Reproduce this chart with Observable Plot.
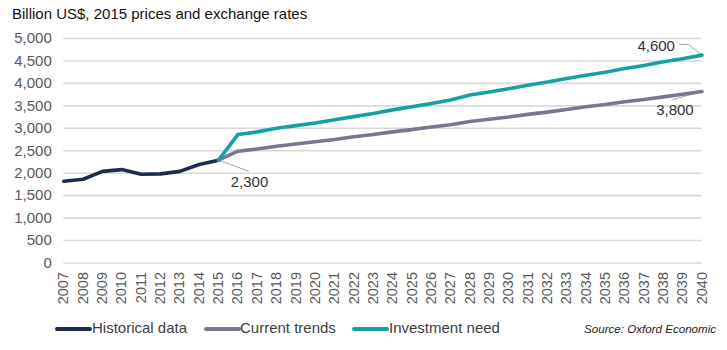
<!DOCTYPE html>
<html>
<head>
<meta charset="utf-8">
<script src="https://cdn.jsdelivr.net/npm/d3@7"></script>
<script src="https://cdn.jsdelivr.net/npm/@observablehq/plot@0.6"></script>
<style>
  html, body { margin: 0; padding: 0; background: #fff; }
  #wrap { position: relative; width: 727px; height: 350px; font-family: "Liberation Sans", Arial, sans-serif; overflow: hidden; }
  #title { position: absolute; left: 12px; top: 5px; font-size: 15px; line-height: 18px; color: #111; white-space: nowrap; }
  #chart { position: absolute; left: 0; top: 28px; }
  .leg { position: absolute; top: 319px; font-size: 15px; line-height: 18px; color: #404040; white-space: nowrap; }
  .sw { position: absolute; top: 327px; width: 37px; height: 4px; border-radius: 2px; }
  #source { position: absolute; top: 322px; left: 584px; font-size: 11.6px; font-style: italic; color: #222; white-space: nowrap; }
</style>
</head>
<body>
<div id="wrap">
  <div id="title">Billion US$, 2015 prices and exchange rates</div>
  <div id="chart"></div>
  <div id="legend"></div>
  <div id="source">Source: Oxford Economic</div>
</div>
<script>
// ---- data ----
const historicalYears = [2007, 2008, 2009, 2010, 2011, 2012, 2013, 2014, 2015];
const historicalValues = [1820, 1865, 2040, 2080, 1975, 1985, 2040, 2195, 2290];

const projectionYears = [2015, 2016, 2017, 2018, 2019, 2020, 2021, 2022, 2023, 2024, 2025, 2026, 2027,
  2028, 2029, 2030, 2031, 2032, 2033, 2034, 2035, 2036, 2037, 2038, 2039, 2040];
const currentTrendValues = [2290, 2490, 2540, 2600, 2650, 2700, 2750, 2810, 2860, 2920, 2970, 3030, 3080,
  3150, 3200, 3250, 3310, 3360, 3420, 3480, 3530, 3590, 3640, 3700, 3760, 3820];
const investmentNeedValues = [2290, 2860, 2920, 3000, 3060, 3120, 3190, 3260, 3330, 3410, 3480, 3550, 3630,
  3740, 3810, 3880, 3960, 4030, 4110, 4180, 4250, 4330, 4400, 4480, 4550, 4630];

const seriesNames = ["Historical data", "Current trends", "Investment need"];
const seriesColors = ["#1f2d4d", "#7a768f", "#17a0a4"];

const xTicks = d3.range(2007, 2041);
const yTicks = [0, 500, 1000, 1500, 2000, 2500, 3000, 3500, 4000, 4500, 5000];

// annotations (label text, label position in data units, leader line path in data units)
const annotationLabels = ["2,300", "4,600", "3,800"];
const annotationLabelYears = [2016.6, 2038.6, 2038.6];
const annotationLabelValues = [1800, 4825, 3400];
const annotationAnchors = ["middle", "end", "middle"];
const leaderIds = ["a", "a", "b", "b", "b", "c", "c"];
const leaderYears = [2015, 2016.55, 2040, 2039.3, 2038.85, 2040, 2038.5];
const leaderValues = [2290, 2045, 4630, 4865, 4865, 3820, 3640];

// ---- build tables ----
const historical = historicalYears.map((year, i) => ({year, value: historicalValues[i]}));
const current = projectionYears.map((year, i) => ({year, value: currentTrendValues[i]}));
const investment = projectionYears.map((year, i) => ({year, value: investmentNeedValues[i]}));
const annotations = annotationLabels.map((label, i) => ({label, year: annotationLabelYears[i], value: annotationLabelValues[i], anchor: annotationAnchors[i]}));
const leaders = leaderIds.map((id, i) => ({id, year: leaderYears[i], value: leaderValues[i]}));

const H = 285;
const chart = Plot.plot({
  width: 727,
  height: H,
  marginLeft: 63.3,
  marginRight: 25.5,
  marginTop: 10,
  marginBottom: 50.5,
  style: {fontFamily: "Liberation Sans, Arial, sans-serif", fontSize: "15px", background: "#fff", overflow: "visible"},
  x: {type: "linear", domain: [2007, 2040]},
  y: {domain: [0, 5000]},
  marks: [
    Plot.gridY(yTicks, {stroke: "#d9d9d9", strokeOpacity: 1, strokeWidth: 1.6}),
    Plot.axisY(yTicks, {tickSize: 0, tickPadding: 12, tickFormat: d3.format(","), fontSize: 15, fill: "#595959", label: null}),
    Plot.axisX(xTicks, {tickSize: 0, tickPadding: 9, tickRotate: -90, tickFormat: d => String(d), fontSize: 14.5, fill: "#595959", label: null}),
    Plot.line(leaders, {x: "year", y: "value", z: "id", stroke: "#a6a6a6", strokeWidth: 1}),
    Plot.line(historical, {x: "year", y: "value", stroke: seriesColors[0], strokeWidth: 3.6}),
    Plot.line(current, {x: "year", y: "value", stroke: seriesColors[1], strokeWidth: 3.6}),
    Plot.line(investment, {x: "year", y: "value", stroke: seriesColors[2], strokeWidth: 3.6}),
    Plot.text(annotations.filter(d => d.anchor === "middle"), {x: "year", y: "value", text: "label", textAnchor: "middle", fontSize: 15, fill: "#333"}),
    Plot.text(annotations.filter(d => d.anchor === "end"), {x: "year", y: "value", text: "label", textAnchor: "end", fontSize: 15, fill: "#333"})
  ]
});
document.getElementById("chart").appendChild(chart);

// ---- legend ----
const legend = document.getElementById("legend");
const swatchLefts = [55, 204, 352];
const textLefts = [92, 240, 389];
seriesNames.forEach((name, i) => {
  const sw = document.createElement("div");
  sw.className = "sw";
  sw.style.left = swatchLefts[i] + "px";
  sw.style.background = seriesColors[i];
  legend.appendChild(sw);
  const t = document.createElement("div");
  t.className = "leg";
  t.style.left = textLefts[i] + "px";
  t.textContent = name;
  legend.appendChild(t);
});
</script>
</body>
</html>
